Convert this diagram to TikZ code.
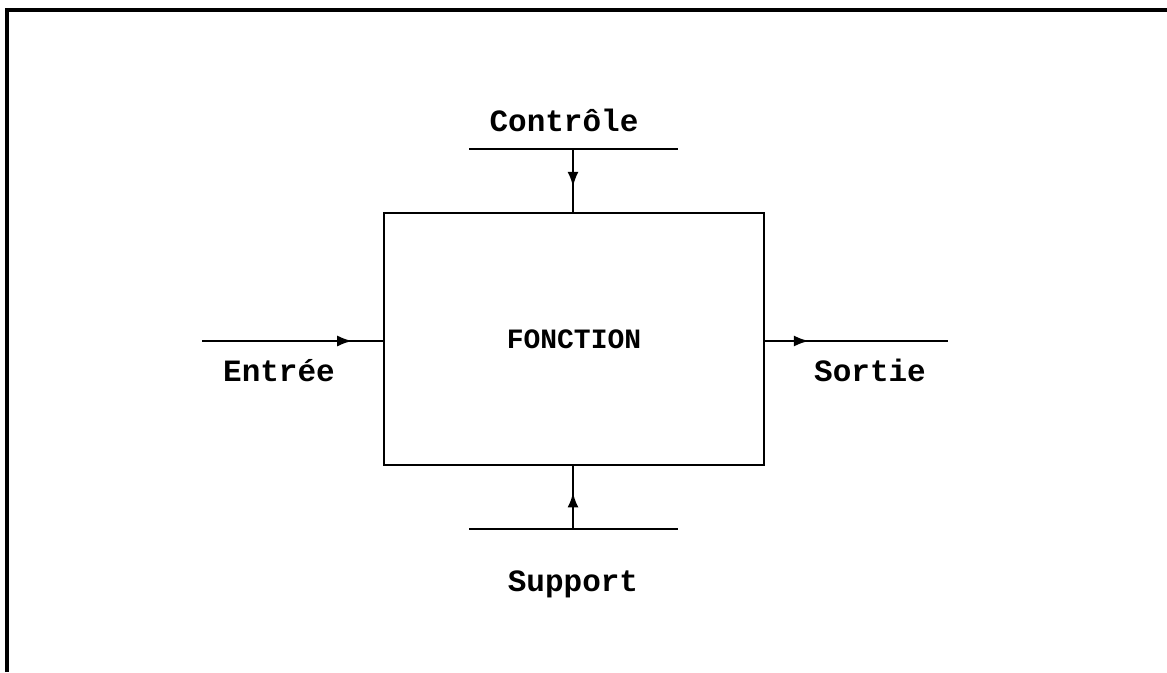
\documentclass[tikz,border=0pt]{standalone}
\usepackage{fontspec}
\newfontfamily\typefont{Liberation Mono}
\usetikzlibrary{arrows.meta,positioning,decorations.markings}

\tikzset{
  fnbox/.style={rectangle,draw,line width=2pt,
    minimum width=380pt,minimum height=252pt,
    align=center,font=\typefont\bfseries\fontsize{28}{34}\selectfont},
  lbl/.style={font=\typefont\bfseries\fontsize{31}{36}\selectfont,inner sep=0pt},
  bar/.style={line width=2.4pt},
  frame/.style={line width=3.5pt},
  midarr/.style={line width=2.2pt,postaction={decorate},
    decoration={markings,
      mark=at position #1 with {\arrow{Latex[length=15pt,width=11pt]}}}},
}

\begin{document}
\begin{tikzpicture}[x=1pt,y=-1pt]
  \useasboundingbox (0,0) rectangle (1167,672);

  % page frame
  \draw[frame] (7,672) -- (7,10) -- (1167,10);

  \node[fnbox] (fn) at (574,339) {FONCTION};

  % control bar on top, support bar below
  \coordinate (ctlL) at (469,149);
  \coordinate (ctlR) at (678,149);
  \coordinate (ctl) at (573,149);
  \coordinate (supL) at (469,529);
  \coordinate (supR) at (678,529);
  \coordinate (sup) at (573,529);

  % input and output lines
  \coordinate (inL) at (202,341);
  \coordinate (outR) at (948,341);

  \draw[bar] (ctlL) -- (ctlR);
  \draw[bar] (supL) -- (supR);
  \draw[midarr=0.6] (ctl) -- (ctl |- fn.north);
  \draw[midarr=0.58] (sup) -- (sup |- fn.south);
  \draw[midarr=0.83] (inL) -- (inL -| fn.west);
  \draw[midarr=0.24] (outR -| fn.east) -- (outR);

  \node[lbl] (ctlLbl) at (564,120) {Contrôle};
  \node[lbl] (supLbl) at (573,584) {Support};
  \node[lbl] (inLbl) at (279,371) {Entrée};
  \node[lbl] (outLbl) at (870,370) {Sortie};

\end{tikzpicture}
\end{document}
